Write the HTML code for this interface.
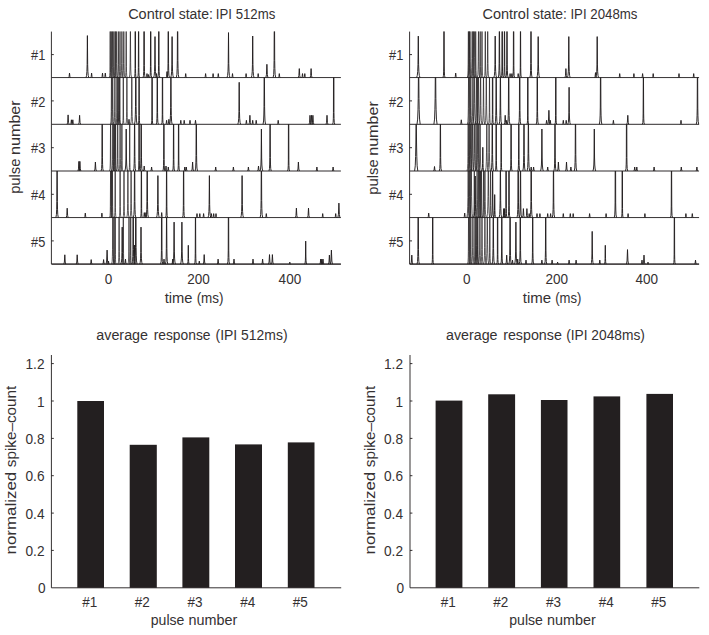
<!DOCTYPE html>
<html><head><meta charset="utf-8"><title>figure</title>
<style>
html,body{margin:0;padding:0;background:#fff;}
body{width:709px;height:635px;position:relative;overflow:hidden;font-family:"Liberation Sans",sans-serif;color:#231f20;}
.t{position:absolute;white-space:nowrap;line-height:1;}
</style></head><body>
<svg width="709" height="635" viewBox="0 0 709 635" style="position:absolute;left:0;top:0">
<rect width="709" height="635" fill="#fff"/>
<defs><clipPath id="l0"><rect x="51.4" y="31.60" width="290.1" height="47.00"/></clipPath><clipPath id="l1"><rect x="51.4" y="77.60" width="290.1" height="47.70"/></clipPath><clipPath id="l2"><rect x="51.4" y="124.30" width="290.1" height="47.70"/></clipPath><clipPath id="l3"><rect x="51.4" y="171.00" width="290.1" height="47.60"/></clipPath><clipPath id="l4"><rect x="51.4" y="217.60" width="290.1" height="47.50"/></clipPath><clipPath id="r0"><rect x="409.6" y="31.60" width="290.1" height="47.00"/></clipPath><clipPath id="r1"><rect x="409.6" y="77.60" width="290.1" height="47.70"/></clipPath><clipPath id="r2"><rect x="409.6" y="124.30" width="290.1" height="47.70"/></clipPath><clipPath id="r3"><rect x="409.6" y="171.00" width="290.1" height="47.60"/></clipPath><clipPath id="r4"><rect x="409.6" y="217.60" width="290.1" height="47.50"/></clipPath></defs>
<g fill="none" stroke="#231f20" stroke-width="0.95" stroke-linejoin="round">
<path clip-path="url(#l0)" d="M51.4,77.6 H340.9 M68.60,77.60 69.09,76.61 69.50,73.10 69.91,76.61 70.40,77.60 M86.00,77.60 86.55,75.60 86.92,71.60 87.14,64.60 87.40,35.60 87.66,64.60 87.88,71.60 88.25,75.60 88.80,77.60 M90.70,77.60 91.19,76.61 91.60,73.10 92.01,76.61 92.50,77.60 M101.60,77.60 102.09,76.61 102.50,73.10 102.91,76.61 103.40,77.60 M104.40,77.60 104.89,76.61 105.30,73.10 105.71,76.61 106.20,77.60 M134.36,77.60 134.82,76.19 134.98,73.51 135.07,68.64 135.12,27.60 135.48,27.60 135.53,68.64 135.62,73.51 135.78,76.19 136.24,77.60 M137.62,77.60 138.09,75.92 138.26,72.79 138.36,67.45 138.52,27.60 138.68,27.60 138.84,67.45 138.94,72.79 139.11,75.92 139.58,77.60 M143.03,77.60 143.53,75.44 143.73,71.46 143.84,65.28 143.90,27.60 144.30,27.60 144.36,65.28 144.47,71.46 144.67,75.44 145.17,77.60 M146.10,77.60 146.60,76.72 147.00,73.60 147.40,76.72 147.90,77.60 M147.61,77.60 148.10,76.94 148.50,74.60 148.90,76.94 149.39,77.60 M149.68,77.60 150.17,75.74 150.35,72.28 150.46,66.62 150.55,27.60 150.85,27.60 150.94,66.62 151.05,72.28 151.23,75.74 151.72,77.60 M153.62,77.60 154.16,75.65 154.53,71.74 154.74,64.91 155.00,36.60 155.26,64.91 155.47,71.74 155.84,75.65 156.38,77.60 M155.60,77.60 156.10,76.72 156.50,73.60 156.90,76.72 157.40,77.60 M157.75,77.60 158.24,75.55 158.44,71.77 158.55,65.78 158.67,27.60 158.93,27.60 159.05,65.78 159.16,71.77 159.36,75.55 159.85,77.60 M166.08,77.60 166.59,76.28 167.00,71.60 167.41,76.28 167.92,77.60 M167.17,77.60 167.69,75.11 167.90,70.56 168.03,63.81 168.19,27.60 168.41,27.60 168.57,63.81 168.70,70.56 168.91,75.11 169.43,77.60 M170.72,77.60 171.26,75.65 171.63,71.74 171.84,64.91 172.10,36.60 172.36,64.91 172.57,71.74 172.94,75.65 173.48,77.60 M176.35,77.60 176.90,74.41 177.15,68.63 177.31,60.65 177.46,27.60 177.74,27.60 177.89,60.65 178.05,68.63 178.30,74.41 178.85,77.60 M184.80,77.60 185.30,76.72 185.70,73.60 186.10,76.72 186.60,77.60 M204.70,77.60 205.20,76.72 205.60,73.60 206.00,76.72 206.50,77.60 M212.20,77.60 212.70,76.72 213.10,73.60 213.50,76.72 214.00,77.60 M217.40,77.60 217.90,76.72 218.30,73.60 218.70,76.72 219.20,77.60 M227.03,77.60 227.61,75.46 228.00,71.17 228.23,63.67 228.50,32.60 228.77,63.67 229.00,71.17 229.39,75.46 229.97,77.60 M231.60,77.60 232.10,76.72 232.50,73.60 232.90,76.72 233.40,77.60 M245.20,77.60 245.70,76.72 246.10,73.60 246.50,76.72 247.00,77.60 M251.31,77.60 251.86,75.62 252.22,71.66 252.44,64.72 252.70,36.00 252.96,64.72 253.18,71.66 253.54,75.62 254.09,77.60 M257.30,77.60 257.80,76.72 258.20,73.60 258.60,76.72 259.10,77.60 M265.89,77.60 266.45,74.67 266.90,64.30 267.35,74.67 267.91,77.60 M273.14,77.60 273.69,74.36 273.95,68.48 274.10,60.40 274.24,27.60 274.56,27.60 274.70,60.40 274.85,68.48 275.11,74.36 275.66,77.60 M278.40,77.60 278.90,76.72 279.30,73.60 279.70,76.72 280.20,77.60 M298.34,77.60 298.87,75.62 299.30,68.60 299.73,75.62 300.26,77.60 M301.60,77.60 302.10,76.72 302.50,73.60 302.90,76.72 303.40,77.60 M303.90,77.60 304.40,76.72 304.80,73.60 305.20,76.72 305.70,77.60 M310.14,77.60 310.67,75.62 311.10,68.60 311.53,75.62 312.06,77.60"/><path clip-path="url(#l0)" stroke-width="0.72" d="M109.20,77.60 109.68,75.81 109.86,72.47 109.96,66.94 110.17,27.60 110.23,27.60 110.44,66.94 110.54,72.47 110.72,75.81 111.20,77.60 M110.38,77.60 110.84,76.30 110.99,73.81 111.08,69.13 111.26,27.60 111.34,27.60 111.52,69.13 111.61,73.81 111.76,76.30 112.22,77.60 M111.63,77.60 112.10,75.99 112.27,72.96 112.36,67.73 112.55,27.60 112.65,27.60 112.84,67.73 112.93,72.96 113.10,75.99 113.57,77.60 M112.87,77.60 113.36,75.65 113.54,72.03 113.65,66.21 113.84,27.60 113.96,27.60 114.15,66.21 114.26,72.03 114.44,75.65 114.93,77.60 M114.22,77.60 114.72,75.38 114.92,71.29 115.04,65.00 115.27,27.60 115.33,27.60 115.56,65.00 115.68,71.29 115.88,75.38 116.38,77.60 M115.16,77.60 115.68,75.01 115.90,70.28 116.03,63.35 116.26,27.60 116.34,27.60 116.57,63.35 116.70,70.28 116.92,75.01 117.44,77.60 M117.21,77.60 117.72,75.33 117.92,71.15 118.04,64.77 118.26,27.60 118.34,27.60 118.56,64.77 118.68,71.15 118.88,75.33 119.39,77.60 M118.93,77.60 119.43,75.45 119.63,71.50 119.74,65.34 119.95,27.60 120.05,27.60 120.26,65.34 120.37,71.50 120.57,75.45 121.07,77.60 M120.76,77.60 121.28,75.02 121.50,70.29 121.63,63.37 121.90,27.60 121.90,27.60 122.17,63.37 122.30,70.29 122.52,75.02 123.04,77.60 M122.65,77.60 123.17,74.99 123.39,70.23 123.53,63.27 123.76,27.60 123.84,27.60 124.07,63.27 124.21,70.23 124.43,74.99 124.95,77.60 M125.19,77.60 125.67,75.77 125.85,72.36 125.96,66.76 126.14,27.60 126.26,27.60 126.44,66.76 126.55,72.36 126.73,75.77 127.21,77.60 M129.24,77.60 129.76,74.90 129.99,69.98 130.12,62.86 130.37,27.60 130.43,27.60 130.68,62.86 130.81,69.98 131.04,74.90 131.56,77.60"/>
<path clip-path="url(#l1)" d="M51.4,124.3 H340.9 M67.14,124.30 67.67,122.23 68.10,114.90 68.53,122.23 69.06,124.30 M70.50,124.30 70.99,123.31 71.40,119.80 71.81,123.31 72.30,124.30 M71.90,124.30 72.39,123.31 72.80,119.80 73.21,123.31 73.70,124.30 M78.64,124.30 79.17,122.32 79.60,115.30 80.03,122.32 80.56,124.30 M128.09,124.30 128.59,123.20 129.00,119.30 129.41,123.20 129.91,124.30 M134.52,124.30 135.08,120.90 135.34,114.76 135.50,106.41 135.67,73.60 135.93,73.60 136.10,106.41 136.26,114.76 136.52,120.90 137.08,124.30 M138.17,124.30 138.63,122.93 138.79,120.33 138.87,115.54 139.00,73.60 139.20,73.60 139.33,115.54 139.41,120.33 139.57,122.93 140.03,124.30 M151.19,124.30 151.64,123.03 151.79,120.61 151.88,115.99 151.96,73.60 152.24,73.60 152.32,115.99 152.41,120.61 152.56,123.03 153.01,124.30 M156.24,124.30 156.74,122.20 156.93,118.33 157.05,112.26 157.21,73.60 157.39,73.60 157.55,112.26 157.67,118.33 157.86,122.20 158.36,124.30 M161.54,124.30 162.01,122.76 162.17,119.85 162.27,114.75 162.35,73.60 162.65,73.60 162.73,114.75 162.83,119.85 162.99,122.76 163.46,124.30 M165.70,124.30 166.20,123.42 166.60,120.30 167.00,123.42 167.50,124.30 M167.99,124.30 168.49,123.20 168.90,119.30 169.31,123.20 169.81,124.30 M169.67,124.30 170.21,121.19 170.46,115.55 170.61,107.71 170.83,73.60 170.97,73.60 171.19,107.71 171.34,115.55 171.59,121.19 172.13,124.30 M179.90,124.30 180.40,123.42 180.80,120.30 181.20,123.42 181.70,124.30 M183.30,124.30 183.80,123.42 184.20,120.30 184.60,123.42 185.10,124.30 M189.10,124.30 189.60,123.42 190.00,120.30 190.40,123.42 190.90,124.30 M194.60,124.30 195.10,123.42 195.50,120.30 195.90,123.42 196.40,124.30 M237.80,124.30 238.35,122.30 238.72,118.30 238.94,111.30 239.20,82.30 239.46,111.30 239.68,118.30 240.05,122.30 240.60,124.30 M245.50,124.30 246.00,123.42 246.40,120.30 246.80,123.42 247.30,124.30 M248.94,124.30 249.47,122.32 249.90,115.30 250.33,122.32 250.86,124.30 M251.80,124.30 252.30,123.42 252.70,120.30 253.10,123.42 253.60,124.30 M255.30,124.30 255.80,123.42 256.20,120.30 256.60,123.42 257.10,124.30 M263.03,124.30 263.59,120.99 263.84,115.00 264.00,106.81 264.20,73.60 264.40,73.60 264.60,106.81 264.76,115.00 265.01,120.99 265.57,124.30 M277.30,124.30 277.80,123.42 278.20,120.30 278.60,123.42 279.10,124.30 M309.04,124.30 309.57,122.32 310.00,115.30 310.43,122.32 310.96,124.30 M310.54,124.30 311.07,122.32 311.50,115.30 311.93,122.32 312.46,124.30 M311.94,124.30 312.47,122.32 312.90,115.30 313.33,122.32 313.86,124.30 M326.04,124.30 326.57,122.32 327.00,115.30 327.43,122.32 327.96,124.30 M332.65,124.30 333.15,122.27 333.34,118.51 333.45,112.56 333.51,73.60 333.89,73.60 333.95,112.56 334.06,118.51 334.25,122.27 334.75,124.30"/><path clip-path="url(#l1)" stroke-width="0.72" d="M110.41,124.30 110.92,122.03 111.12,117.85 111.24,111.47 111.44,73.60 111.56,73.60 111.76,111.47 111.88,117.85 112.08,122.03 112.59,124.30 M111.53,124.30 112.06,121.56 112.28,116.56 112.42,109.35 112.65,73.60 112.75,73.60 112.98,109.35 113.12,116.56 113.34,121.56 113.87,124.30 M113.80,124.30 114.31,121.96 114.51,117.66 114.64,111.16 114.87,73.60 114.93,73.60 115.16,111.16 115.29,117.66 115.49,121.96 116.00,124.30 M115.94,124.30 116.44,122.18 116.63,118.28 116.75,112.17 116.95,73.60 117.05,73.60 117.25,112.17 117.37,118.28 117.56,122.18 118.06,124.30 M116.86,124.30 117.38,121.73 117.60,117.04 117.73,110.15 118.00,73.60 118.00,73.60 118.27,110.15 118.40,117.04 118.62,121.73 119.14,124.30 M117.88,124.30 118.39,121.82 118.60,117.28 118.73,110.54 118.99,73.60 119.01,73.60 119.27,110.54 119.40,117.28 119.61,121.82 120.12,124.30 M118.82,124.30 119.29,122.63 119.46,119.51 119.56,114.18 119.79,73.60 119.81,73.60 120.04,114.18 120.14,119.51 120.31,122.63 120.78,124.30 M122.39,124.30 122.84,123.03 122.99,120.61 123.08,115.98 123.25,73.60 123.35,73.60 123.52,115.98 123.61,120.61 123.76,123.03 124.21,124.30 M125.80,124.30 126.31,121.95 126.51,117.64 126.64,111.13 126.90,73.60 126.90,73.60 127.16,111.13 127.29,117.64 127.49,121.95 128.00,124.30 M130.63,124.30 131.15,121.53 131.38,116.49 131.52,109.24 131.75,73.60 131.85,73.60 132.08,109.24 132.22,116.49 132.45,121.53 132.97,124.30"/>
<path clip-path="url(#l2)" d="M51.4,171.0 H340.9 M77.93,171.00 78.47,168.89 78.90,161.40 79.33,168.89 79.87,171.00 M78.93,171.00 79.47,168.89 79.90,161.40 80.33,168.89 80.87,171.00 M94.44,171.00 94.97,169.02 95.40,162.00 95.83,169.02 96.36,171.00 M101.10,171.00 101.61,168.66 101.81,164.35 101.94,157.85 102.08,120.30 102.32,120.30 102.46,157.85 102.59,164.35 102.79,168.66 103.30,171.00 M124.80,171.00 125.35,169.00 125.72,165.00 125.94,158.00 126.20,129.00 126.46,158.00 126.68,165.00 127.05,169.00 127.60,171.00 M133.44,171.00 133.96,168.31 134.19,163.41 134.32,156.31 134.53,120.30 134.67,120.30 134.88,156.31 135.01,163.41 135.24,168.31 135.76,171.00 M138.10,171.00 138.58,169.25 138.76,165.98 138.86,160.51 138.91,120.30 139.29,120.30 139.34,160.51 139.44,165.98 139.62,169.25 140.10,171.00 M140.07,171.00 140.59,168.50 140.80,163.91 140.93,157.13 141.08,120.30 141.32,120.30 141.47,157.13 141.60,163.91 141.81,168.50 142.33,171.00 M143.29,171.00 143.79,169.90 144.20,166.00 144.61,169.90 145.11,171.00 M150.70,171.00 151.20,170.12 151.60,167.00 152.00,170.12 152.50,171.00 M162.86,171.00 163.35,169.00 163.54,165.30 163.65,159.40 163.80,120.30 164.00,120.30 164.15,159.40 164.26,165.30 164.45,169.00 164.94,171.00 M165.09,171.00 165.59,169.90 166.00,166.00 166.41,169.90 166.91,171.00 M167.40,171.00 167.90,170.12 168.30,167.00 168.70,170.12 169.20,171.00 M172.56,171.00 173.05,168.99 173.24,165.27 173.35,159.35 173.50,120.30 173.70,120.30 173.85,159.35 173.96,165.27 174.15,168.99 174.64,171.00 M177.58,171.00 178.07,169.14 178.25,165.68 178.36,160.03 178.46,120.30 178.74,120.30 178.84,160.03 178.95,165.68 179.13,169.14 179.62,171.00 M183.90,171.00 184.40,170.12 184.80,167.00 185.20,170.12 185.70,171.00 M185.40,171.00 185.90,170.12 186.30,167.00 186.70,170.12 187.20,171.00 M191.64,171.00 192.17,169.02 192.60,162.00 193.03,169.02 193.56,171.00 M195.10,171.00 195.64,168.10 195.87,162.83 196.02,155.35 196.19,120.30 196.41,120.30 196.58,155.35 196.73,162.83 196.96,168.10 197.50,171.00 M214.80,171.00 215.30,170.12 215.70,167.00 216.10,170.12 216.60,171.00 M232.50,171.00 233.00,170.12 233.40,167.00 233.80,170.12 234.30,171.00 M247.50,171.00 248.00,170.12 248.40,167.00 248.80,170.12 249.30,171.00 M257.59,171.00 258.09,169.90 258.50,166.00 258.91,169.90 259.41,171.00 M260.00,171.00 260.55,169.00 260.92,165.00 261.14,158.00 261.40,129.00 261.66,158.00 261.88,165.00 262.25,169.00 262.80,171.00 M268.98,171.00 269.49,168.55 269.71,164.06 269.83,157.36 270.04,120.30 270.16,120.30 270.37,157.36 270.49,164.06 270.71,168.55 271.22,171.00 M287.58,171.00 288.06,169.12 288.25,165.62 288.35,159.93 288.44,120.30 288.76,120.30 288.85,159.93 288.95,165.62 289.14,169.12 289.62,171.00 M297.44,171.00 297.97,169.02 298.40,162.00 298.83,169.02 299.36,171.00 M316.00,171.00 316.50,170.12 316.90,167.00 317.30,170.12 317.80,171.00 M332.20,171.00 332.70,170.12 333.10,167.00 333.50,170.12 334.00,171.00"/><path clip-path="url(#l2)" stroke-width="0.72" d="M109.54,171.00 110.04,168.91 110.23,165.04 110.35,158.97 110.56,120.30 110.64,120.30 110.85,158.97 110.97,165.04 111.16,168.91 111.66,171.00 M111.76,171.00 112.25,168.99 112.44,165.27 112.55,159.35 112.74,120.30 112.86,120.30 113.05,159.35 113.16,165.27 113.35,168.99 113.84,171.00 M112.83,171.00 113.30,169.42 113.47,166.45 113.57,161.29 113.76,120.30 113.84,120.30 114.03,161.29 114.13,166.45 114.30,169.42 114.77,171.00 M113.65,171.00 114.15,168.97 114.34,165.21 114.45,159.25 114.64,120.30 114.76,120.30 114.95,159.25 115.06,165.21 115.25,168.97 115.75,171.00 M114.58,171.00 115.07,169.14 115.25,165.67 115.36,160.01 115.60,120.30 115.60,120.30 115.84,160.01 115.95,165.67 116.13,169.14 116.62,171.00 M116.63,171.00 117.13,168.81 117.33,164.79 117.44,158.57 117.70,120.30 117.70,120.30 117.96,158.57 118.07,164.79 118.27,168.81 118.77,171.00 M119.02,171.00 119.52,168.80 119.72,164.74 119.84,158.48 120.10,120.30 120.10,120.30 120.36,158.48 120.48,164.74 120.68,168.80 121.18,171.00 M120.90,171.00 121.38,169.24 121.56,165.95 121.66,160.46 121.86,120.30 121.94,120.30 122.14,160.46 122.24,165.95 122.42,169.24 122.90,171.00 M128.79,171.00 129.25,169.76 129.40,167.40 129.48,162.84 129.66,120.30 129.74,120.30 129.92,162.84 130.00,167.40 130.15,169.76 130.61,171.00"/>
<path clip-path="url(#l3)" d="M51.4,217.6 H340.9 M55.89,217.60 56.43,214.63 56.67,209.24 56.81,201.64 57.01,167.00 57.19,167.00 57.39,201.64 57.53,209.24 57.77,214.63 58.31,217.60 M66.24,217.60 66.77,215.53 67.20,208.20 67.63,215.53 68.16,217.60 M84.40,217.60 84.89,216.61 85.30,213.10 85.71,216.61 86.20,217.60 M101.00,217.60 101.49,216.61 101.90,213.10 102.31,216.61 102.80,217.60 M133.39,217.60 133.93,214.63 134.17,209.22 134.31,201.62 134.45,167.00 134.75,167.00 134.89,201.62 135.03,209.22 135.27,214.63 135.81,217.60 M140.45,217.60 140.91,216.11 141.08,213.32 141.17,208.32 141.29,167.00 141.51,167.00 141.63,208.32 141.72,213.32 141.89,216.11 142.35,217.60 M143.39,217.60 143.89,216.50 144.30,212.60 144.71,216.50 145.21,217.60 M144.99,217.60 145.49,216.50 145.90,212.60 146.31,216.50 146.81,217.60 M145.99,217.60 146.53,214.65 146.77,209.30 146.91,201.74 147.10,167.00 147.30,167.00 147.49,201.74 147.63,209.30 147.87,214.65 148.41,217.60 M156.50,217.60 157.05,215.60 157.42,211.60 157.64,204.60 157.90,175.60 158.16,204.60 158.38,211.60 158.75,215.60 159.30,217.60 M160.79,217.60 161.29,216.50 161.70,212.60 162.11,216.50 162.61,217.60 M165.57,217.60 166.05,215.64 166.24,212.00 166.35,206.17 166.50,167.00 166.70,167.00 166.85,206.17 166.96,212.00 167.15,215.64 167.63,217.60 M182.54,217.60 183.03,215.48 183.23,211.56 183.35,205.44 183.48,167.00 183.72,167.00 183.85,205.44 183.97,211.56 184.17,215.48 184.66,217.60 M196.10,217.60 196.60,216.72 197.00,213.60 197.40,216.72 197.90,217.60 M198.90,217.60 199.40,216.72 199.80,213.60 200.20,216.72 200.70,217.60 M202.70,217.60 203.20,216.72 203.60,213.60 204.00,216.72 204.50,217.60 M208.00,217.60 208.55,215.60 208.92,211.60 209.14,204.60 209.40,175.60 209.66,204.60 209.88,211.60 210.25,215.60 210.80,217.60 M210.50,217.60 211.00,216.72 211.40,213.60 211.80,216.72 212.30,217.60 M212.80,217.60 213.30,216.72 213.70,213.60 214.10,216.72 214.60,217.60 M215.10,217.60 215.60,216.72 216.00,213.60 216.40,216.72 216.90,217.60 M240.70,217.60 241.25,215.60 241.62,211.60 241.84,204.60 242.10,175.60 242.36,204.60 242.58,211.60 242.95,215.60 243.50,217.60 M260.15,217.60 260.70,214.37 260.95,208.53 261.10,200.49 261.28,167.00 261.52,167.00 261.70,200.49 261.85,208.53 262.10,214.37 262.65,217.60 M265.40,217.60 265.90,216.72 266.30,213.60 266.70,216.72 267.20,217.60 M295.44,217.60 295.97,215.51 296.40,208.10 296.83,215.51 297.36,217.60 M307.54,217.60 308.07,215.51 308.50,208.10 308.93,215.51 309.46,217.60 M321.80,217.60 322.30,216.72 322.70,213.60 323.10,216.72 323.60,217.60 M334.80,217.60 335.30,216.72 335.70,213.60 336.10,216.72 336.60,217.60 M337.88,217.60 338.44,214.41 338.90,203.10 339.36,214.41 339.92,217.60"/><path clip-path="url(#l3)" stroke-width="0.72" d="M109.58,217.60 110.06,215.70 110.25,212.18 110.35,206.47 110.59,167.00 110.61,167.00 110.85,206.47 110.95,212.18 111.14,215.70 111.62,217.60 M110.61,217.60 111.09,215.88 111.26,212.68 111.36,207.28 111.59,167.00 111.61,167.00 111.84,207.28 111.94,212.68 112.11,215.88 112.59,217.60 M111.38,217.60 111.86,215.70 112.05,212.17 112.15,206.44 112.35,167.00 112.45,167.00 112.65,206.44 112.75,212.17 112.94,215.70 113.42,217.60 M114.21,217.60 114.68,215.86 114.86,212.62 114.96,207.18 115.19,167.00 115.21,167.00 115.44,207.18 115.54,212.62 115.72,215.86 116.19,217.60 M119.07,217.60 119.56,215.68 119.75,212.12 119.85,206.35 120.05,167.00 120.15,167.00 120.35,206.35 120.45,212.12 120.64,215.68 121.13,217.60 M122.95,217.60 123.44,215.55 123.64,211.77 123.75,205.79 123.99,167.00 124.01,167.00 124.25,205.79 124.36,211.77 124.56,215.55 125.05,217.60 M126.77,217.60 127.28,215.06 127.50,210.41 127.63,203.56 127.85,167.00 127.95,167.00 128.17,203.56 128.30,210.41 128.52,215.06 129.03,217.60 M129.97,217.60 130.49,215.11 130.70,210.55 130.83,203.79 131.08,167.00 131.12,167.00 131.37,203.79 131.50,210.55 131.71,215.11 132.23,217.60"/>
<path clip-path="url(#l4)" d="M51.4,264.1 H340.9 M63.84,264.10 64.37,262.05 64.80,254.80 65.23,262.05 65.76,264.10 M76.24,264.10 76.77,262.05 77.20,254.80 77.63,262.05 78.16,264.10 M90.30,264.10 90.79,263.11 91.20,259.60 91.61,263.11 92.10,264.10 M102.70,264.10 103.19,263.11 103.60,259.60 104.01,263.11 104.50,264.10 M106.08,264.10 106.64,261.02 107.10,250.10 107.56,261.02 108.12,264.10 M107.61,264.10 108.10,263.44 108.50,261.10 108.90,263.44 109.39,264.10 M120.92,264.10 121.42,262.34 121.75,258.81 121.95,252.65 122.20,227.10 122.45,252.65 122.65,258.81 122.98,262.34 123.48,264.10 M124.59,264.10 125.09,263.00 125.50,259.10 125.91,263.00 126.41,264.10 M132.03,264.10 132.56,261.37 132.79,256.40 132.92,249.23 133.01,213.60 133.39,213.60 133.48,249.23 133.61,256.40 133.84,261.37 134.37,264.10 M133.75,264.10 134.05,263.20 134.27,261.39 134.38,258.22 134.60,245.10 134.82,258.22 134.93,261.39 135.15,263.20 135.45,264.10 M134.55,264.10 135.10,260.93 135.35,255.18 135.51,247.22 135.61,213.60 135.99,213.60 136.09,247.22 136.25,255.18 136.50,260.93 137.05,264.10 M139.72,264.10 140.22,262.34 140.55,258.81 140.75,252.65 141.00,227.10 141.25,252.65 141.45,258.81 141.78,262.34 142.28,264.10 M160.58,264.10 161.09,261.63 161.30,257.11 161.43,250.39 161.51,213.60 161.89,213.60 161.97,250.39 162.10,257.11 162.31,261.63 162.82,264.10 M163.09,264.10 163.59,263.00 164.00,259.10 164.41,263.00 164.91,264.10 M165.41,264.10 165.95,261.26 166.18,256.09 166.32,248.72 166.54,213.60 166.66,213.60 166.88,248.72 167.02,256.09 167.25,261.26 167.79,264.10 M171.79,264.10 172.29,263.00 172.70,259.10 173.11,263.00 173.61,264.10 M172.70,264.10 173.25,262.10 173.62,258.10 173.84,251.10 174.10,222.10 174.36,251.10 174.58,258.10 174.95,262.10 175.50,264.10 M180.50,264.10 181.05,262.10 181.42,258.10 181.64,251.10 181.90,222.10 182.16,251.10 182.38,258.10 182.75,262.10 183.30,264.10 M187.45,264.10 187.75,263.20 187.97,261.41 188.08,258.28 188.30,245.30 188.52,258.28 188.63,261.41 188.85,263.20 189.15,264.10 M194.48,264.10 194.97,262.24 195.15,258.79 195.26,253.13 195.42,213.60 195.58,213.60 195.74,253.13 195.85,258.79 196.03,262.24 196.52,264.10 M198.41,264.10 198.90,263.44 199.30,261.10 199.70,263.44 200.19,264.10 M203.24,264.10 203.77,262.01 204.20,254.60 204.63,262.01 205.16,264.10 M217.19,264.10 217.69,263.00 218.10,259.10 218.51,263.00 219.01,264.10 M227.40,264.10 227.91,261.75 228.11,257.42 228.24,250.90 228.35,213.60 228.65,213.60 228.76,250.90 228.89,257.42 229.09,261.75 229.60,264.10 M233.09,264.10 233.59,263.00 234.00,259.10 234.41,263.00 234.91,264.10 M252.09,264.10 252.59,263.00 253.00,259.10 253.41,263.00 253.91,264.10 M261.69,264.10 262.19,263.00 262.60,259.10 263.01,263.00 263.51,264.10 M268.54,264.10 269.07,262.01 269.50,254.60 269.93,262.01 270.46,264.10 M271.44,264.10 271.97,262.01 272.40,254.60 272.83,262.01 273.36,264.10 M288.93,264.10 289.41,263.66 289.80,262.10 290.19,263.66 290.67,264.10 M304.75,264.10 305.10,263.00 305.35,260.81 305.48,256.98 305.70,241.10 305.92,256.98 306.05,260.81 306.30,263.00 306.65,264.10 M319.79,264.10 320.29,263.00 320.70,259.10 321.11,263.00 321.61,264.10 M320.89,264.10 321.39,263.00 321.80,259.10 322.21,263.00 322.71,264.10 M322.09,264.10 322.59,263.00 323.00,259.10 323.41,263.00 323.91,264.10 M328.44,264.10 328.97,262.12 329.40,255.10 329.83,262.12 330.36,264.10 M330.38,264.10 330.94,261.02 331.40,250.10 331.86,261.02 332.42,264.10"/><path clip-path="url(#l4)" stroke-width="0.72" d="M111.64,264.10 112.16,261.39 112.39,256.45 112.52,249.31 112.80,213.60 112.80,213.60 113.08,249.31 113.21,256.45 113.44,261.39 113.96,264.10 M112.98,264.10 113.46,262.21 113.65,258.69 113.75,252.97 113.94,213.60 114.06,213.60 114.25,252.97 114.35,258.69 114.54,262.21 115.02,264.10 M114.24,264.10 114.71,262.54 114.87,259.62 114.97,254.50 115.14,213.60 115.26,213.60 115.43,254.50 115.53,259.62 115.69,262.54 116.16,264.10 M118.01,264.10 118.52,261.84 118.72,257.68 118.84,251.33 119.05,213.60 119.15,213.60 119.36,251.33 119.48,257.68 119.68,261.84 120.19,264.10 M122.30,264.10 122.78,262.35 122.96,259.10 123.06,253.64 123.28,213.60 123.32,213.60 123.54,253.64 123.64,259.10 123.82,262.35 124.30,264.10 M127.94,264.10 128.43,261.96 128.63,258.01 128.74,251.86 129.00,213.60 129.00,213.60 129.26,251.86 129.37,258.01 129.57,261.96 130.06,264.10 M129.79,264.10 130.24,262.83 130.39,260.40 130.48,255.78 130.65,213.60 130.75,213.60 130.92,255.78 131.01,260.40 131.16,262.83 131.61,264.10"/>
<path clip-path="url(#r0)" d="M409.6,77.6 H699.1 M416.56,77.60 417.25,75.62 417.70,71.67 417.98,64.75 418.30,36.10 418.62,64.75 418.90,71.67 419.35,75.62 420.04,77.60 M442.96,77.60 443.45,75.60 443.64,71.90 443.75,66.00 443.88,27.60 444.12,27.60 444.25,66.00 444.36,71.90 444.55,75.60 445.04,77.60 M454.80,77.60 455.29,76.61 455.70,73.10 456.11,76.61 456.60,77.60 M493.81,77.60 494.36,75.62 494.72,71.67 494.94,64.75 495.20,36.10 495.46,64.75 495.68,71.67 496.04,75.62 496.59,77.60 M498.25,77.60 498.77,74.98 498.99,70.19 499.13,63.20 499.29,27.60 499.51,27.60 499.67,63.20 499.81,70.19 500.03,74.98 500.55,77.60 M501.16,77.60 501.65,75.61 501.84,71.92 501.95,66.03 502.06,27.60 502.34,27.60 502.45,66.03 502.56,71.92 502.75,75.61 503.24,77.60 M503.47,77.60 503.96,75.68 504.15,72.11 504.25,66.35 504.41,27.60 504.59,27.60 504.75,66.35 504.85,72.11 505.04,75.68 505.53,77.60 M505.89,77.60 506.40,75.18 506.61,70.74 506.73,64.10 506.92,27.60 507.08,27.60 507.27,64.10 507.39,70.74 507.60,75.18 508.11,77.60 M509.20,77.60 509.70,76.72 510.10,73.60 510.50,76.72 511.00,77.60 M511.00,77.60 511.50,76.72 511.90,73.60 512.30,76.72 512.80,77.60 M512.55,77.60 513.05,75.56 513.24,71.80 513.35,65.84 513.44,27.60 513.76,27.60 513.85,65.84 513.96,71.80 514.15,75.56 514.65,77.60 M517.30,77.60 517.80,76.72 518.20,73.60 518.60,76.72 519.10,77.60 M519.53,77.60 520.00,76.01 520.17,73.02 520.27,67.83 520.43,27.60 520.57,27.60 520.73,67.83 520.83,73.02 521.00,76.01 521.47,77.60 M529.87,77.60 530.38,75.07 530.60,70.44 530.73,63.62 530.89,27.60 531.11,27.60 531.27,63.62 531.40,70.44 531.62,75.07 532.13,77.60 M536.82,77.60 537.36,75.65 537.73,71.74 537.94,64.91 538.20,36.60 538.46,64.91 538.67,71.74 539.04,75.65 539.58,77.60 M564.94,77.60 565.47,75.62 565.90,68.60 566.33,75.62 566.86,77.60 M567.42,77.60 567.96,75.65 568.33,71.74 568.54,64.91 568.80,36.60 569.06,64.91 569.27,71.74 569.64,75.65 570.18,77.60 M594.59,77.60 595.09,76.50 595.50,72.60 595.91,76.50 596.41,77.60 M595.82,77.60 596.36,75.65 596.73,71.74 596.94,64.91 597.20,36.60 597.46,64.91 597.67,71.74 598.04,75.65 598.58,77.60 M618.80,77.60 619.30,76.72 619.70,73.60 620.10,76.72 620.60,77.60 M633.00,77.60 633.50,76.72 633.90,73.60 634.30,76.72 634.80,77.60 M641.70,77.60 642.20,76.72 642.60,73.60 643.00,76.72 643.50,77.60 M652.30,77.60 652.80,76.72 653.20,73.60 653.60,76.72 654.10,77.60 M678.10,77.60 678.60,76.72 679.00,73.60 679.40,76.72 679.90,77.60 M692.80,77.60 693.30,76.72 693.70,73.60 694.10,76.72 694.60,77.60"/><path clip-path="url(#r0)" stroke-width="0.72" d="M467.29,77.60 467.80,75.19 468.01,70.78 468.13,64.17 468.38,27.60 468.42,27.60 468.67,64.17 468.79,70.78 469.00,75.19 469.51,77.60 M467.97,77.60 468.54,73.92 468.81,67.29 468.99,58.45 469.27,27.60 469.33,27.60 469.61,58.45 469.79,67.29 470.06,73.92 470.63,77.60 M468.77,77.60 469.31,74.52 469.56,68.92 469.71,61.13 469.99,27.60 470.01,27.60 470.29,61.13 470.44,68.92 470.69,74.52 471.23,77.60 M470.86,77.60 471.44,73.90 471.71,67.22 471.89,58.35 472.19,27.60 472.21,27.60 472.51,58.35 472.69,67.22 472.96,73.90 473.54,77.60 M471.95,77.60 472.53,73.82 472.81,67.01 472.98,58.01 473.25,27.60 473.35,27.60 473.62,58.01 473.79,67.01 474.07,73.82 474.65,77.60 M472.93,77.60 473.52,73.73 473.80,66.76 473.98,57.58 474.26,27.60 474.34,27.60 474.62,57.58 474.80,66.76 475.08,73.73 475.67,77.60 M474.58,77.60 475.09,75.16 475.31,70.68 475.43,64.00 475.68,27.60 475.72,27.60 475.97,64.00 476.09,70.68 476.31,75.16 476.82,77.60 M477.30,77.60 477.83,74.67 478.07,69.33 478.21,61.79 478.47,27.60 478.53,27.60 478.79,61.79 478.93,69.33 479.17,74.67 479.70,77.60 M479.17,77.60 479.66,75.67 479.85,72.09 479.95,66.31 480.20,27.60 480.20,27.60 480.45,66.31 480.55,72.09 480.74,75.67 481.23,77.60 M480.97,77.60 481.45,75.64 481.64,72.00 481.75,66.16 481.99,27.60 482.01,27.60 482.25,66.16 482.36,72.00 482.55,75.64 483.03,77.60 M484.26,77.60 484.75,75.59 484.94,71.88 485.05,65.97 485.25,27.60 485.35,27.60 485.55,65.97 485.66,71.88 485.85,75.59 486.34,77.60 M486.56,77.60 487.08,75.05 487.30,70.37 487.43,63.50 487.68,27.60 487.72,27.60 487.97,63.50 488.10,70.37 488.32,75.05 488.84,77.60"/>
<path clip-path="url(#r1)" d="M409.6,124.3 H699.1 M417.00,124.30 417.65,119.10 418.00,109.80 418.23,98.30 418.43,73.60 418.77,73.60 418.97,98.30 419.20,109.80 419.55,119.10 420.20,124.30 M433.90,124.30 434.55,119.10 434.90,109.80 435.13,98.30 435.33,73.60 435.67,73.60 435.87,98.30 436.10,109.80 436.45,119.10 437.10,124.30 M460.40,124.30 460.89,123.31 461.30,119.80 461.71,123.31 462.20,124.30 M491.63,124.30 492.10,122.71 492.27,119.72 492.37,114.53 492.42,73.60 492.78,73.60 492.83,114.53 492.93,119.72 493.10,122.71 493.57,124.30 M494.98,124.30 495.52,121.25 495.76,115.71 495.91,107.97 496.14,73.60 496.26,73.60 496.49,107.97 496.64,115.71 496.88,121.25 497.42,124.30 M499.18,124.30 499.72,121.24 499.96,115.69 500.11,107.94 500.32,73.60 500.48,73.60 500.69,107.94 500.84,115.69 501.08,121.24 501.62,124.30 M504.24,124.30 504.77,122.32 505.20,115.30 505.63,122.32 506.16,124.30 M505.80,124.30 506.30,123.42 506.70,120.30 507.10,123.42 507.60,124.30 M507.48,124.30 508.02,121.26 508.26,115.74 508.41,108.02 508.55,73.60 508.85,73.60 508.99,108.02 509.14,115.74 509.38,121.26 509.92,124.30 M518.58,124.30 519.09,121.83 519.30,117.30 519.43,110.57 519.51,73.60 519.89,73.60 519.97,110.57 520.10,117.30 520.31,121.83 520.82,124.30 M526.89,124.30 527.34,123.02 527.49,120.58 527.58,115.94 527.63,73.60 527.97,73.60 528.02,115.94 528.11,120.58 528.26,123.02 528.71,124.30 M536.20,124.30 536.71,121.98 536.92,117.71 537.04,111.24 537.13,73.60 537.47,73.60 537.56,111.24 537.68,117.71 537.89,121.98 538.40,124.30 M545.70,124.30 546.20,123.42 546.60,120.30 547.00,123.42 547.50,124.30 M547.88,124.30 548.44,121.22 548.90,110.30 549.36,121.22 549.92,124.30 M549.40,124.30 549.90,123.42 550.30,120.30 550.70,123.42 551.20,124.30 M554.86,124.30 555.32,122.87 555.48,120.15 555.57,115.24 555.64,73.60 555.96,73.60 556.03,115.24 556.12,120.15 556.28,122.87 556.74,124.30 M562.40,124.30 562.90,123.42 563.30,120.30 563.70,123.42 564.20,124.30 M565.30,124.30 565.80,123.42 566.20,120.30 566.60,123.42 567.10,124.30 M567.82,124.30 568.32,122.54 568.65,119.01 568.85,112.85 569.10,87.30 569.35,112.85 569.55,119.01 569.88,122.54 570.38,124.30 M599.34,124.30 599.89,121.04 600.15,115.15 600.30,107.05 600.44,73.60 600.76,73.60 600.90,107.05 601.05,115.15 601.31,121.04 601.86,124.30 M612.50,124.30 613.00,123.42 613.40,120.30 613.80,123.42 614.30,124.30 M626.84,124.30 627.37,122.32 627.80,115.30 628.23,122.32 628.76,124.30 M642.38,124.30 642.86,122.39 643.05,118.84 643.15,113.09 643.33,73.60 643.47,73.60 643.65,113.09 643.75,118.84 643.94,122.39 644.42,124.30 M680.10,124.30 680.60,123.42 681.00,120.30 681.40,123.42 681.90,124.30 M696.28,124.30 696.82,121.28 697.06,115.79 697.21,108.10 697.36,73.60 697.64,73.60 697.79,108.10 697.94,115.79 698.18,121.28 698.72,124.30"/><path clip-path="url(#r1)" stroke-width="0.72" d="M467.39,124.30 467.93,121.31 468.17,115.88 468.31,108.24 468.58,73.60 468.62,73.60 468.89,108.24 469.03,115.88 469.27,121.31 469.81,124.30 M468.40,124.30 468.97,120.83 469.23,114.57 469.40,106.10 469.67,73.60 469.73,73.60 470.00,106.10 470.17,114.57 470.43,120.83 471.00,124.30 M469.57,124.30 470.11,121.21 470.36,115.61 470.51,107.81 470.79,73.60 470.81,73.60 471.09,107.81 471.24,115.61 471.49,121.21 472.03,124.30 M471.72,124.30 472.25,121.48 472.48,116.35 472.62,109.01 472.90,73.60 472.90,73.60 473.18,109.01 473.32,116.35 473.55,121.48 474.08,124.30 M472.90,124.30 473.49,120.25 473.79,112.97 473.97,103.49 474.25,73.60 474.35,73.60 474.63,103.49 474.81,112.97 475.11,120.25 475.70,124.30 M475.06,124.30 475.64,120.60 475.91,113.93 476.09,105.06 476.35,73.60 476.45,73.60 476.71,105.06 476.89,113.93 477.16,120.60 477.74,124.30 M476.34,124.30 476.84,122.20 477.03,118.34 477.15,112.27 477.37,73.60 477.43,73.60 477.65,112.27 477.77,118.34 477.96,122.20 478.46,124.30 M477.12,124.30 477.71,120.37 478.00,113.29 478.18,104.02 478.46,73.60 478.54,73.60 478.82,104.02 479.00,113.29 479.29,120.37 479.88,124.30 M479.29,124.30 479.85,120.74 480.12,114.31 480.29,105.68 480.56,73.60 480.64,73.60 480.91,105.68 481.08,114.31 481.35,120.74 481.91,124.30 M482.25,124.30 482.80,121.09 483.05,115.27 483.20,107.25 483.49,73.60 483.51,73.60 483.80,107.25 483.95,115.27 484.20,121.09 484.75,124.30 M484.97,124.30 485.54,120.64 485.82,114.04 485.99,105.24 486.29,73.60 486.31,73.60 486.61,105.24 486.78,114.04 487.06,120.64 487.63,124.30 M488.45,124.30 488.95,122.26 489.14,118.49 489.25,112.53 489.49,73.60 489.51,73.60 489.75,112.53 489.86,118.49 490.05,122.26 490.55,124.30"/>
<path clip-path="url(#r2)" d="M409.6,171.0 H699.1 M414.60,171.00 415.25,165.80 415.60,156.50 415.83,145.00 416.11,120.30 416.29,120.30 416.57,145.00 416.80,156.50 417.15,165.80 417.80,171.00 M433.60,171.00 434.09,170.01 434.50,166.50 434.91,170.01 435.40,171.00 M439.29,171.00 439.80,168.60 440.01,164.20 440.13,157.60 440.31,120.30 440.49,120.30 440.66,157.60 440.79,164.20 441.00,168.60 441.51,171.00 M481.84,171.00 482.19,169.87 482.44,167.61 482.57,163.66 482.80,147.30 483.03,163.66 483.16,167.61 483.41,169.87 483.76,171.00 M491.07,171.00 491.62,167.92 491.86,162.34 492.01,154.55 492.18,120.30 492.42,120.30 492.59,154.55 492.74,162.34 492.98,167.92 493.53,171.00 M495.20,171.00 495.68,169.21 495.86,165.88 495.96,160.35 496.06,120.30 496.34,120.30 496.44,160.35 496.54,165.88 496.72,169.21 497.20,171.00 M500.29,171.00 500.74,169.75 500.90,167.36 500.98,162.77 501.11,120.30 501.29,120.30 501.42,162.77 501.50,167.36 501.66,169.75 502.11,171.00 M510.05,171.00 510.54,168.96 510.74,165.18 510.85,159.21 510.97,120.30 511.23,120.30 511.35,159.21 511.46,165.18 511.66,168.96 512.15,171.00 M517.76,171.00 518.25,169.01 518.44,165.32 518.55,159.43 518.72,120.30 518.88,120.30 519.05,159.43 519.16,165.32 519.35,169.01 519.84,171.00 M522.80,171.00 523.34,168.10 523.57,162.82 523.72,155.34 523.89,120.30 524.11,120.30 524.28,155.34 524.43,162.82 524.66,168.10 525.20,171.00 M527.12,171.00 527.68,167.62 527.94,161.50 528.10,153.19 528.32,120.30 528.48,120.30 528.70,153.19 528.86,161.50 529.12,167.62 529.68,171.00 M530.30,171.00 530.80,170.12 531.20,167.00 531.60,170.12 532.10,171.00 M532.70,171.00 533.20,170.12 533.60,167.00 534.00,170.12 534.50,171.00 M540.50,171.00 541.05,169.00 541.42,165.00 541.64,158.00 541.90,129.00 542.16,158.00 542.38,165.00 542.75,169.00 543.30,171.00 M546.80,171.00 547.30,170.12 547.70,167.00 548.10,170.12 548.60,171.00 M553.87,171.00 554.39,168.48 554.60,163.88 554.73,157.07 554.87,120.30 555.13,120.30 555.27,157.07 555.40,163.88 555.61,168.48 556.13,171.00 M557.44,171.00 557.97,169.02 558.40,162.00 558.83,169.02 559.36,171.00 M565.54,171.00 566.07,169.02 566.50,162.00 566.93,169.02 567.46,171.00 M570.00,171.00 570.50,170.12 570.90,167.00 571.30,170.12 571.80,171.00 M574.28,171.00 574.82,167.96 575.06,162.45 575.21,154.74 575.37,120.30 575.63,120.30 575.79,154.74 575.94,162.45 576.18,167.96 576.72,171.00 M592.90,171.00 593.45,169.00 593.82,165.00 594.04,158.00 594.30,129.00 594.56,158.00 594.78,165.00 595.15,169.00 595.70,171.00 M625.49,171.00 626.00,168.57 626.21,164.13 626.33,157.48 626.42,120.30 626.78,120.30 626.87,157.48 626.99,164.13 627.20,168.57 627.71,171.00 M633.80,171.00 634.30,170.12 634.70,167.00 635.10,170.12 635.60,171.00 M635.90,171.00 636.40,170.12 636.80,167.00 637.20,170.12 637.70,171.00 M653.20,171.00 653.70,170.12 654.10,167.00 654.50,170.12 655.00,171.00 M680.40,171.00 680.90,170.12 681.30,167.00 681.70,170.12 682.20,171.00 M696.00,171.00 696.50,170.12 696.90,167.00 697.30,170.12 697.80,171.00"/><path clip-path="url(#r2)" stroke-width="0.72" d="M467.04,171.00 467.56,168.32 467.79,163.42 467.92,156.33 468.18,120.30 468.22,120.30 468.48,156.33 468.61,163.42 468.84,168.32 469.36,171.00 M468.02,171.00 468.55,168.20 468.78,163.09 468.92,155.78 469.18,120.30 469.22,120.30 469.48,155.78 469.62,163.09 469.85,168.20 470.38,171.00 M468.79,171.00 469.38,166.86 469.68,159.43 469.87,149.79 470.17,120.30 470.23,120.30 470.53,149.79 470.72,159.43 471.02,166.86 471.61,171.00 M470.13,171.00 470.63,168.81 470.83,164.79 470.94,158.57 471.16,120.30 471.24,120.30 471.46,158.57 471.57,164.79 471.77,168.81 472.27,171.00 M471.31,171.00 471.87,167.58 472.13,161.40 472.30,153.02 472.55,120.30 472.65,120.30 472.90,153.02 473.07,161.40 473.33,167.58 473.89,171.00 M473.02,171.00 473.58,167.66 473.84,161.61 474.00,153.36 474.27,120.30 474.33,120.30 474.60,153.36 474.76,161.61 475.02,167.66 475.58,171.00 M474.95,171.00 475.45,168.97 475.64,165.22 475.75,159.26 475.99,120.30 476.01,120.30 476.25,159.26 476.36,165.22 476.55,168.97 477.05,171.00 M476.08,171.00 476.62,167.96 476.86,162.44 477.01,154.71 477.25,120.30 477.35,120.30 477.59,154.71 477.74,162.44 477.98,167.96 478.52,171.00 M477.62,171.00 478.12,168.75 478.32,164.62 478.44,158.29 478.66,120.30 478.74,120.30 478.96,158.29 479.08,164.62 479.28,168.75 479.78,171.00 M478.85,171.00 479.40,167.79 479.65,161.98 479.80,153.98 480.09,120.30 480.11,120.30 480.40,153.98 480.55,161.98 480.80,167.79 481.35,171.00 M485.50,171.00 486.07,167.54 486.33,161.29 486.50,152.84 486.79,120.30 486.81,120.30 487.10,152.84 487.27,161.29 487.53,167.54 488.10,171.00 M487.80,171.00 488.36,167.51 488.63,161.19 488.79,152.68 489.08,120.30 489.12,120.30 489.41,152.68 489.57,161.19 489.84,167.51 490.40,171.00"/>
<path clip-path="url(#r3)" d="M409.6,217.6 H699.1 M427.80,217.60 428.29,216.61 428.70,213.10 429.11,216.61 429.60,217.60 M463.80,217.60 464.29,216.61 464.70,213.10 465.11,216.61 465.60,217.60 M473.81,217.60 474.36,215.62 474.72,211.66 474.94,204.72 475.20,176.00 475.46,204.72 475.68,211.66 476.04,215.62 476.59,217.60 M491.44,217.60 491.97,214.94 492.19,210.07 492.33,203.01 492.50,167.00 492.70,167.00 492.87,203.01 493.01,210.07 493.23,214.94 493.76,217.60 M493.75,217.60 494.10,216.50 494.35,214.31 494.48,210.48 494.70,194.60 494.92,210.48 495.05,214.31 495.30,216.50 495.65,217.60 M499.16,217.60 499.71,214.45 499.95,208.73 500.11,200.82 500.32,167.00 500.48,167.00 500.69,200.82 500.85,208.73 501.09,214.45 501.64,217.60 M502.84,217.60 503.37,215.62 503.80,208.60 504.23,215.62 504.76,217.60 M503.34,217.60 503.87,215.62 504.30,208.60 504.73,215.62 505.26,217.60 M505.16,217.60 505.62,216.19 505.78,213.51 505.87,208.64 505.91,167.00 506.29,167.00 506.33,208.64 506.42,213.51 506.58,216.19 507.04,217.60 M507.96,217.60 508.45,215.58 508.64,211.84 508.75,205.90 508.81,167.00 509.19,167.00 509.25,205.90 509.36,211.84 509.55,215.58 510.04,217.60 M517.01,217.60 517.54,214.73 517.78,209.52 517.92,202.10 518.03,167.00 518.37,167.00 518.48,202.10 518.62,209.52 518.86,214.73 519.39,217.60 M519.34,217.60 519.86,214.91 520.09,210.01 520.22,202.91 520.40,167.00 520.60,167.00 520.78,202.91 520.91,210.01 521.14,214.91 521.66,217.60 M522.44,217.60 522.97,215.62 523.40,208.60 523.83,215.62 524.36,217.60 M525.94,217.60 526.47,215.62 526.90,208.60 527.33,215.62 527.86,217.60 M528.30,217.60 528.80,216.72 529.20,213.60 529.60,216.72 530.10,217.60 M529.99,217.60 530.53,214.63 530.77,209.22 530.91,201.62 531.05,167.00 531.35,167.00 531.49,201.62 531.63,209.22 531.87,214.63 532.41,217.60 M536.10,217.60 536.60,216.72 537.00,213.60 537.40,216.72 537.90,217.60 M539.00,217.60 539.50,216.72 539.90,213.60 540.30,216.72 540.80,217.60 M546.80,217.60 547.30,216.72 547.70,213.60 548.10,216.72 548.60,217.60 M549.70,217.60 550.20,216.72 550.60,213.60 551.00,216.72 551.50,217.60 M552.31,217.60 552.84,214.74 553.08,209.54 553.22,202.13 553.40,167.00 553.60,167.00 553.78,202.13 553.92,209.54 554.16,214.74 554.69,217.60 M562.40,217.60 562.90,216.72 563.30,213.60 563.70,216.72 564.20,217.60 M569.40,217.60 569.90,216.72 570.30,213.60 570.70,216.72 571.20,217.60 M572.30,217.60 572.80,216.72 573.20,213.60 573.60,216.72 574.10,217.60 M588.70,217.60 589.20,216.72 589.60,213.60 590.00,216.72 590.50,217.60 M605.20,217.60 605.70,216.72 606.10,213.60 606.50,216.72 607.00,217.60 M614.24,217.60 614.76,214.92 614.99,210.03 615.12,202.94 615.21,167.00 615.59,167.00 615.68,202.94 615.81,210.03 616.04,214.92 616.56,217.60 M621.36,217.60 621.82,216.15 621.98,213.41 622.07,208.48 622.16,167.00 622.44,167.00 622.53,208.48 622.62,213.41 622.78,216.15 623.24,217.60 M627.20,217.60 627.70,216.72 628.10,213.60 628.50,216.72 629.00,217.60 M644.00,217.60 644.50,216.72 644.90,213.60 645.30,216.72 645.80,217.60 M670.46,217.60 670.95,215.63 671.14,211.97 671.25,206.11 671.37,167.00 671.63,167.00 671.75,206.11 671.86,211.97 672.05,215.63 672.54,217.60 M685.00,217.60 685.50,216.72 685.90,213.60 686.30,216.72 686.80,217.60 M691.40,217.60 691.90,216.72 692.30,213.60 692.70,216.72 693.20,217.60"/><path clip-path="url(#r3)" stroke-width="0.72" d="M466.84,217.60 467.42,213.74 467.70,206.80 467.88,197.65 468.16,167.00 468.24,167.00 468.52,197.65 468.70,206.80 468.98,213.74 469.56,217.60 M467.79,217.60 468.39,213.50 468.68,206.11 468.87,196.53 469.16,167.00 469.24,167.00 469.53,196.53 469.72,206.11 470.01,213.50 470.61,217.60 M469.10,217.60 469.60,215.24 469.81,210.90 469.94,204.36 470.19,167.00 470.21,167.00 470.46,204.36 470.59,210.90 470.80,215.24 471.30,217.60 M469.89,217.60 470.49,213.50 470.78,206.12 470.97,196.55 471.26,167.00 471.34,167.00 471.63,196.55 471.82,206.12 472.11,213.50 472.71,217.60 M473.22,217.60 473.72,215.34 473.92,211.20 474.04,204.85 474.29,167.00 474.31,167.00 474.56,204.85 474.68,211.20 474.88,215.34 475.38,217.60 M475.80,217.60 476.36,214.11 476.63,207.80 476.79,199.29 477.09,167.00 477.11,167.00 477.41,199.29 477.57,207.80 477.84,214.11 478.40,217.60 M477.39,217.60 477.90,215.19 478.11,210.77 478.23,204.15 478.45,167.00 478.55,167.00 478.77,204.15 478.89,210.77 479.10,215.19 479.61,217.60 M478.42,217.60 478.95,214.78 479.18,209.66 479.32,202.33 479.58,167.00 479.62,167.00 479.88,202.33 480.02,209.66 480.25,214.78 480.78,217.60 M479.46,217.60 479.95,215.58 480.14,211.84 480.25,205.90 480.49,167.00 480.51,167.00 480.75,205.90 480.86,211.84 481.05,215.58 481.54,217.60 M480.35,217.60 480.87,214.94 481.09,210.10 481.23,203.05 481.48,167.00 481.52,167.00 481.77,203.05 481.91,210.10 482.13,214.94 482.65,217.60 M482.59,217.60 483.07,215.78 483.25,212.40 483.36,206.83 483.56,167.00 483.64,167.00 483.84,206.83 483.95,212.40 484.13,215.78 484.61,217.60 M483.69,217.60 484.23,214.63 484.47,209.24 484.61,201.65 484.87,167.00 484.93,167.00 485.19,201.65 485.33,209.24 485.57,214.63 486.11,217.60 M486.89,217.60 487.49,213.51 487.78,206.14 487.97,196.58 488.26,167.00 488.34,167.00 488.63,196.58 488.82,206.14 489.11,213.51 489.71,217.60 M489.44,217.60 489.94,215.51 490.13,211.66 490.25,205.61 490.47,167.00 490.53,167.00 490.75,205.61 490.87,211.66 491.06,215.51 491.56,217.60"/>
<path clip-path="url(#r4)" d="M409.6,264.1 H699.1 M410.84,264.10 411.37,262.12 411.80,255.10 412.23,262.12 412.76,264.10 M417.04,264.10 417.56,261.41 417.79,256.49 417.92,249.38 418.04,213.60 418.36,213.60 418.48,249.38 418.61,256.49 418.84,261.41 419.36,264.10 M431.73,264.10 432.20,262.50 432.37,259.50 432.46,254.30 432.56,213.60 432.84,213.60 432.94,254.30 433.03,259.50 433.20,262.50 433.67,264.10 M492.10,264.10 492.64,261.19 492.87,255.89 493.02,248.39 493.22,213.60 493.38,213.60 493.58,248.39 493.73,255.89 493.96,261.19 494.50,264.10 M496.63,264.10 497.10,262.49 497.27,259.48 497.36,254.27 497.44,213.60 497.76,213.60 497.84,254.27 497.93,259.48 498.10,262.49 498.57,264.10 M500.74,264.10 501.24,261.98 501.43,258.08 501.55,251.98 501.71,213.60 501.89,213.60 502.05,251.98 502.17,258.08 502.36,261.98 502.86,264.10 M505.74,264.10 506.27,262.12 506.70,255.10 507.13,262.12 507.66,264.10 M508.89,264.10 509.43,261.11 509.67,255.66 509.81,248.02 509.94,213.60 510.26,213.60 510.39,248.02 510.53,255.66 510.77,261.11 511.31,264.10 M511.60,264.10 512.10,263.22 512.50,260.10 512.90,263.22 513.40,264.10 M514.50,264.10 515.05,262.10 515.42,258.10 515.64,251.10 515.90,222.10 516.16,251.10 516.38,258.10 516.75,262.10 517.30,264.10 M516.79,264.10 517.29,263.00 517.70,259.10 518.11,263.00 518.61,264.10 M519.17,264.10 519.69,261.60 519.90,257.02 520.03,250.24 520.14,213.60 520.46,213.60 520.57,250.24 520.70,257.02 520.91,261.60 521.43,264.10 M525.10,264.10 525.60,263.22 526.00,260.10 526.40,263.22 526.90,264.10 M531.65,264.10 532.14,262.02 532.33,258.19 532.45,252.16 532.62,213.60 532.78,213.60 532.95,252.16 533.07,258.19 533.26,262.02 533.75,264.10 M541.00,264.10 541.50,263.22 541.90,260.10 542.30,263.22 542.80,264.10 M544.60,264.10 545.10,261.74 545.31,257.41 545.44,250.88 545.61,213.60 545.79,213.60 545.96,250.88 546.09,257.41 546.30,261.74 546.80,264.10 M551.20,264.10 551.70,263.22 552.10,260.10 552.50,263.22 553.00,264.10 M556.73,264.10 557.21,263.66 557.60,262.10 557.99,263.66 558.47,264.10 M568.20,264.10 568.70,263.22 569.10,260.10 569.50,263.22 570.00,264.10 M575.20,264.10 575.70,263.22 576.10,260.10 576.50,263.22 577.00,264.10 M591.02,264.10 591.47,262.54 591.78,259.43 591.96,253.98 592.20,231.40 592.44,253.98 592.62,259.43 592.93,262.54 593.38,264.10 M598.90,264.10 599.40,263.22 599.80,260.10 600.20,263.22 600.70,264.10 M604.45,264.10 604.75,263.20 604.97,261.41 605.08,258.28 605.30,245.30 605.52,258.28 605.63,261.41 605.85,263.20 606.15,264.10 M626.48,264.10 627.04,260.91 627.50,249.60 627.96,260.91 628.52,264.10 M641.10,264.10 641.60,263.22 642.00,260.10 642.40,263.22 642.90,264.10 M643.04,264.10 643.57,262.12 644.00,255.10 644.43,262.12 644.96,264.10 M647.13,264.10 647.61,263.66 648.00,262.10 648.39,263.66 648.87,264.10 M673.42,264.10 673.89,262.46 674.07,259.38 674.16,254.10 674.26,213.60 674.54,213.60 674.64,254.10 674.73,259.38 674.91,262.46 675.38,264.10 M694.60,264.10 695.10,263.22 695.50,260.10 695.90,263.22 696.40,264.10"/><path clip-path="url(#r4)" stroke-width="0.72" d="M467.52,264.10 468.02,261.87 468.22,257.77 468.34,251.47 468.56,213.60 468.64,213.60 468.86,251.47 468.98,257.77 469.18,261.87 469.68,264.10 M468.64,264.10 469.14,262.00 469.33,258.14 469.45,252.07 469.66,213.60 469.74,213.60 469.95,252.07 470.07,258.14 470.26,262.00 470.76,264.10 M469.66,264.10 470.18,261.50 470.40,256.76 470.53,249.82 470.79,213.60 470.81,213.60 471.07,249.82 471.20,256.76 471.42,261.50 471.94,264.10 M471.66,264.10 472.21,260.97 472.46,255.29 472.61,247.41 472.86,213.60 472.94,213.60 473.19,247.41 473.34,255.29 473.59,260.97 474.14,264.10 M473.86,264.10 474.38,261.55 474.60,256.89 474.73,250.03 474.97,213.60 475.03,213.60 475.27,250.03 475.40,256.89 475.62,261.55 476.14,264.10 M474.69,264.10 475.26,260.58 475.53,254.23 475.69,245.67 476.00,213.60 476.00,213.60 476.31,245.67 476.47,254.23 476.74,260.58 477.31,264.10 M475.68,264.10 476.25,260.52 476.52,254.07 476.69,245.41 476.97,213.60 477.03,213.60 477.31,245.41 477.48,254.07 477.75,260.52 478.32,264.10 M476.63,264.10 477.16,261.38 477.39,256.42 477.52,249.26 477.78,213.60 477.82,213.60 478.08,249.26 478.21,256.42 478.44,261.38 478.97,264.10 M478.68,264.10 479.22,261.09 479.46,255.62 479.61,247.95 479.90,213.60 479.90,213.60 480.19,247.95 480.34,255.62 480.58,261.09 481.12,264.10 M480.85,264.10 481.37,261.45 481.59,256.61 481.73,249.58 481.95,213.60 482.05,213.60 482.27,249.58 482.41,256.61 482.63,261.45 483.15,264.10 M483.67,264.10 484.21,261.00 484.46,255.38 484.61,247.55 484.88,213.60 484.92,213.60 485.19,247.55 485.34,255.38 485.59,261.00 486.13,264.10 M485.94,264.10 486.52,260.27 486.80,253.36 486.98,244.25 487.28,213.60 487.32,213.60 487.62,244.25 487.80,253.36 488.08,260.27 488.66,264.10 M488.75,264.10 489.25,262.06 489.44,258.29 489.55,252.32 489.78,213.60 489.82,213.60 490.05,252.32 490.16,258.29 490.35,262.06 490.85,264.10"/>
</g>
<g fill="none" stroke="#231f20" stroke-width="0.92">
<path d="M51.4,31.6 V264.1 H340.9"/>
<path d="M51.4,54.6 h2.4"/>
<path d="M51.4,100.9 h2.4"/>
<path d="M51.4,147.7 h2.4"/>
<path d="M51.4,194.3 h2.4"/>
<path d="M51.4,240.9 h2.4"/>
<path d="M409.6,31.6 V264.1 H699.1"/>
<path d="M409.6,54.6 h2.4"/>
<path d="M409.6,100.9 h2.4"/>
<path d="M409.6,147.7 h2.4"/>
<path d="M409.6,194.3 h2.4"/>
<path d="M409.6,240.9 h2.4"/>
<path d="M51.4,355.0 V587.8 H341.2"/>
<path d="M51.4,550.4 h2.4"/>
<path d="M51.4,513.1 h2.4"/>
<path d="M51.4,475.7 h2.4"/>
<path d="M51.4,438.4 h2.4"/>
<path d="M51.4,401.0 h2.4"/>
<path d="M51.4,363.6 h2.4"/>
<path d="M410.0,355.0 V587.8 H699.3"/>
<path d="M410.0,550.4 h2.4"/>
<path d="M410.0,513.1 h2.4"/>
<path d="M410.0,475.7 h2.4"/>
<path d="M410.0,438.4 h2.4"/>
<path d="M410.0,401.0 h2.4"/>
<path d="M410.0,363.6 h2.4"/>
</g>
<g fill="#231f20">
<rect x="77.3" y="401.0" width="26.7" height="186.8"/>
<rect x="129.7" y="444.8" width="27.1" height="143.0"/>
<rect x="182.4" y="437.4" width="26.9" height="150.4"/>
<rect x="235.0" y="444.4" width="27.0" height="143.4"/>
<rect x="287.8" y="442.4" width="26.7" height="145.4"/>
<rect x="435.6" y="400.6" width="26.8" height="187.2"/>
<rect x="488.2" y="394.3" width="26.9" height="193.5"/>
<rect x="540.9" y="400.0" width="26.6" height="187.8"/>
<rect x="593.5" y="396.4" width="26.7" height="191.4"/>
<rect x="646.4" y="393.9" width="26.6" height="193.9"/>
</g>
<g fill="#353132" font-family="Liberation Sans, sans-serif" style="font-family:'Liberation Sans',sans-serif"><text x="128.15" y="19.20" font-size="14.70" textLength="46.70" lengthAdjust="spacingAndGlyphs">Control</text>
<text x="178.65" y="19.20" font-size="14.70" textLength="34.30" lengthAdjust="spacingAndGlyphs">state:</text>
<text x="215.85" y="19.20" font-size="14.70" textLength="59.40" lengthAdjust="spacingAndGlyphs">IPI 512ms</text>
<text x="482.45" y="19.20" font-size="14.70" textLength="46.70" lengthAdjust="spacingAndGlyphs">Control</text>
<text x="532.95" y="19.20" font-size="14.70" textLength="34.00" lengthAdjust="spacingAndGlyphs">state:</text>
<text x="570.45" y="19.20" font-size="14.70" textLength="67.00" lengthAdjust="spacingAndGlyphs">IPI 2048ms</text>
<text x="31.07" y="60.40" font-size="14.70" textLength="14.23" lengthAdjust="spacingAndGlyphs">#1</text>
<text x="31.07" y="106.75" font-size="14.70" textLength="14.23" lengthAdjust="spacingAndGlyphs">#2</text>
<text x="31.07" y="153.45" font-size="14.70" textLength="14.23" lengthAdjust="spacingAndGlyphs">#3</text>
<text x="31.07" y="200.10" font-size="14.70" textLength="14.23" lengthAdjust="spacingAndGlyphs">#4</text>
<text x="31.07" y="246.65" font-size="14.70" textLength="14.23" lengthAdjust="spacingAndGlyphs">#5</text>
<text transform="translate(20.00,193.85) rotate(-90)" font-size="14.70" textLength="35.30" lengthAdjust="spacingAndGlyphs">pulse</text>
<text transform="translate(20.00,155.05) rotate(-90)" font-size="14.70" textLength="54.80" lengthAdjust="spacingAndGlyphs">number</text>
<text x="389.07" y="60.40" font-size="14.70" textLength="14.23" lengthAdjust="spacingAndGlyphs">#1</text>
<text x="389.07" y="106.75" font-size="14.70" textLength="14.23" lengthAdjust="spacingAndGlyphs">#2</text>
<text x="389.07" y="153.45" font-size="14.70" textLength="14.23" lengthAdjust="spacingAndGlyphs">#3</text>
<text x="389.07" y="200.10" font-size="14.70" textLength="14.23" lengthAdjust="spacingAndGlyphs">#4</text>
<text x="389.07" y="246.65" font-size="14.70" textLength="14.23" lengthAdjust="spacingAndGlyphs">#5</text>
<text transform="translate(378.00,194.65) rotate(-90)" font-size="14.70" textLength="35.30" lengthAdjust="spacingAndGlyphs">pulse</text>
<text transform="translate(378.00,155.85) rotate(-90)" font-size="14.70" textLength="54.80" lengthAdjust="spacingAndGlyphs">number</text>
<text x="104.84" y="283.80" font-size="14.70" textLength="7.52" lengthAdjust="spacingAndGlyphs">0</text>
<text x="187.17" y="283.80" font-size="14.70" textLength="22.57" lengthAdjust="spacingAndGlyphs">200</text>
<text x="278.62" y="283.80" font-size="14.70" textLength="22.57" lengthAdjust="spacingAndGlyphs">400</text>
<text x="462.94" y="283.80" font-size="14.70" textLength="7.52" lengthAdjust="spacingAndGlyphs">0</text>
<text x="545.57" y="283.80" font-size="14.70" textLength="22.57" lengthAdjust="spacingAndGlyphs">200</text>
<text x="635.52" y="283.80" font-size="14.70" textLength="22.57" lengthAdjust="spacingAndGlyphs">400</text>
<text x="164.65" y="302.80" font-size="14.70" textLength="27.80" lengthAdjust="spacingAndGlyphs">time</text>
<text x="196.65" y="302.80" font-size="14.70" textLength="26.90" lengthAdjust="spacingAndGlyphs">(ms)</text>
<text x="522.75" y="302.80" font-size="14.70" textLength="28.40" lengthAdjust="spacingAndGlyphs">time</text>
<text x="555.15" y="302.80" font-size="14.70" textLength="26.20" lengthAdjust="spacingAndGlyphs">(ms)</text>
<text x="96.25" y="340.00" font-size="14.70" textLength="51.80" lengthAdjust="spacingAndGlyphs">average</text>
<text x="153.65" y="340.00" font-size="14.70" textLength="56.90" lengthAdjust="spacingAndGlyphs">response</text>
<text x="215.55" y="340.00" font-size="14.70" textLength="72.00" lengthAdjust="spacingAndGlyphs">(IPI 512ms)</text>
<text x="446.05" y="340.00" font-size="14.70" textLength="51.50" lengthAdjust="spacingAndGlyphs">average</text>
<text x="503.15" y="340.00" font-size="14.70" textLength="58.70" lengthAdjust="spacingAndGlyphs">response</text>
<text x="566.15" y="340.00" font-size="14.70" textLength="78.70" lengthAdjust="spacingAndGlyphs">(IPI 2048ms)</text>
<text x="37.90" y="593.00" font-size="14.70" textLength="7.60" lengthAdjust="spacingAndGlyphs">0</text>
<text x="25.50" y="556.14" font-size="14.70" textLength="19.00" lengthAdjust="spacingAndGlyphs">0.2</text>
<text x="25.50" y="518.78" font-size="14.70" textLength="19.00" lengthAdjust="spacingAndGlyphs">0.4</text>
<text x="25.50" y="481.42" font-size="14.70" textLength="19.00" lengthAdjust="spacingAndGlyphs">0.6</text>
<text x="25.50" y="444.06" font-size="14.70" textLength="19.00" lengthAdjust="spacingAndGlyphs">0.8</text>
<text x="36.90" y="406.70" font-size="14.70" textLength="7.60" lengthAdjust="spacingAndGlyphs">1</text>
<text x="25.50" y="369.34" font-size="14.70" textLength="19.00" lengthAdjust="spacingAndGlyphs">1.2</text>
<text transform="translate(16.30,554.45) rotate(-90)" font-size="14.70" textLength="82.70" lengthAdjust="spacingAndGlyphs">normalized</text>
<text transform="translate(16.30,467.15) rotate(-90)" font-size="14.70" textLength="81.45" lengthAdjust="spacingAndGlyphs">spike–count</text>
<text x="82.18" y="606.80" font-size="14.70" textLength="15.04" lengthAdjust="spacingAndGlyphs">#1</text>
<text x="134.83" y="606.80" font-size="14.70" textLength="15.04" lengthAdjust="spacingAndGlyphs">#2</text>
<text x="187.48" y="606.80" font-size="14.70" textLength="15.04" lengthAdjust="spacingAndGlyphs">#3</text>
<text x="240.13" y="606.80" font-size="14.70" textLength="15.04" lengthAdjust="spacingAndGlyphs">#4</text>
<text x="292.78" y="606.80" font-size="14.70" textLength="15.04" lengthAdjust="spacingAndGlyphs">#5</text>
<text x="150.75" y="625.40" font-size="14.70" textLength="33.60" lengthAdjust="spacingAndGlyphs">pulse</text>
<text x="188.45" y="625.40" font-size="14.70" textLength="48.80" lengthAdjust="spacingAndGlyphs">number</text>
<text x="396.40" y="593.00" font-size="14.70" textLength="7.60" lengthAdjust="spacingAndGlyphs">0</text>
<text x="384.00" y="556.14" font-size="14.70" textLength="19.00" lengthAdjust="spacingAndGlyphs">0.2</text>
<text x="384.00" y="518.78" font-size="14.70" textLength="19.00" lengthAdjust="spacingAndGlyphs">0.4</text>
<text x="384.00" y="481.42" font-size="14.70" textLength="19.00" lengthAdjust="spacingAndGlyphs">0.6</text>
<text x="384.00" y="444.06" font-size="14.70" textLength="19.00" lengthAdjust="spacingAndGlyphs">0.8</text>
<text x="395.40" y="406.70" font-size="14.70" textLength="7.60" lengthAdjust="spacingAndGlyphs">1</text>
<text x="384.00" y="369.34" font-size="14.70" textLength="19.00" lengthAdjust="spacingAndGlyphs">1.2</text>
<text transform="translate(374.80,554.45) rotate(-90)" font-size="14.70" textLength="82.70" lengthAdjust="spacingAndGlyphs">normalized</text>
<text transform="translate(374.80,467.15) rotate(-90)" font-size="14.70" textLength="81.45" lengthAdjust="spacingAndGlyphs">spike–count</text>
<text x="440.68" y="606.80" font-size="14.70" textLength="15.04" lengthAdjust="spacingAndGlyphs">#1</text>
<text x="493.33" y="606.80" font-size="14.70" textLength="15.04" lengthAdjust="spacingAndGlyphs">#2</text>
<text x="545.98" y="606.80" font-size="14.70" textLength="15.04" lengthAdjust="spacingAndGlyphs">#3</text>
<text x="598.63" y="606.80" font-size="14.70" textLength="15.04" lengthAdjust="spacingAndGlyphs">#4</text>
<text x="651.28" y="606.80" font-size="14.70" textLength="15.04" lengthAdjust="spacingAndGlyphs">#5</text>
<text x="509.25" y="625.40" font-size="14.70" textLength="33.60" lengthAdjust="spacingAndGlyphs">pulse</text>
<text x="546.95" y="625.40" font-size="14.70" textLength="48.80" lengthAdjust="spacingAndGlyphs">number</text></g>
</svg>

</body></html>
